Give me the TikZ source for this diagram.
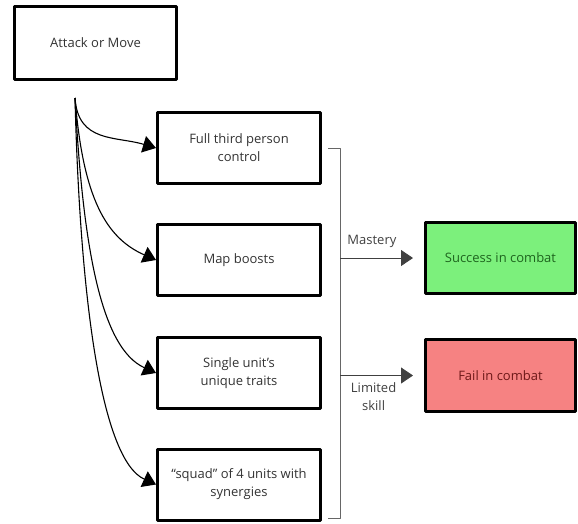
\documentclass[tikz,border=0pt]{standalone}
\usepackage{fontspec}
\setmainfont{Open Sans}
\usetikzlibrary{arrows.meta}

\definecolor{okfill}{RGB}{124,240,124}
\definecolor{oktext}{RGB}{30,100,30}
\definecolor{badfill}{RGB}{246,130,130}
\definecolor{badtext}{RGB}{110,25,25}

\begin{document}
\begin{tikzpicture}[x=1pt,y=-1pt,line join=round,font=\fontsize{13}{18}\selectfont,
	box/.style={draw,line width=3pt,minimum width=163pt,minimum height=71pt,align=center,text=black!80,inner sep=2pt},
	result/.style={box,minimum width=150pt},
	flow/.style={line width=1.1pt,-{Triangle[length=13pt,width=17pt]}},
	branch/.style={line width=0.9pt,black!75,-{Triangle[length=12pt,width=16pt]},shorten >=11pt},
	bracket/.style={line width=0.8pt,black!60},
	note/.style={text=black!75,align=center}]
	\useasboundingbox (0,0) rectangle (578,523);

	\node[box,minimum width=162pt,minimum height=73pt] (attack) at (95.5,43) {Attack or Move};
	\coordinate (start) at (75,98);

	\node[box] (b1) at (239,148) {Full third person\\control};
	\node[box] (b2) at (239,260) {Map boosts};
	\node[box] (b3) at (239,373) {Single unit's\\unique traits};
	\node[box] (b4) at (239,484.5) {``squad'' of 4 units with\\synergies};

	\node[result,fill=okfill,text=oktext,minimum height=71pt] (win) at (500.5,258) {Success in combat};
	\node[result,fill=badfill,text=badtext,minimum height=72pt] (lose) at (500.5,375.5) {Fail in combat};

	\foreach \n/\a/\b in {b1/{3,45}/{-40,-12},b2/{8,100}/{-50,-22},b3/{8,150}/{-55,-25},b4/{5,200}/{-55,-25}}
		\draw[flow] (start) .. controls +(\a) and +(\b) .. (\n.west);

	% bracket joining the four options
	\coordinate (brtop) at (340,148);
	\coordinate (brbot) at (340,518);
	\draw[bracket] ([xshift=6pt]b1.east) -- (brtop) -- (brbot) -- ++(-12,0);

	\draw[branch] (brtop |- win.west) -- (win.west) node[note,pos=0.38,above=7pt] {Mastery};
	\draw[branch] (brtop |- lose.west) -- (lose.west) node[note,pos=0.4,below=3pt] {Limited\\skill};
\end{tikzpicture}
\end{document}
